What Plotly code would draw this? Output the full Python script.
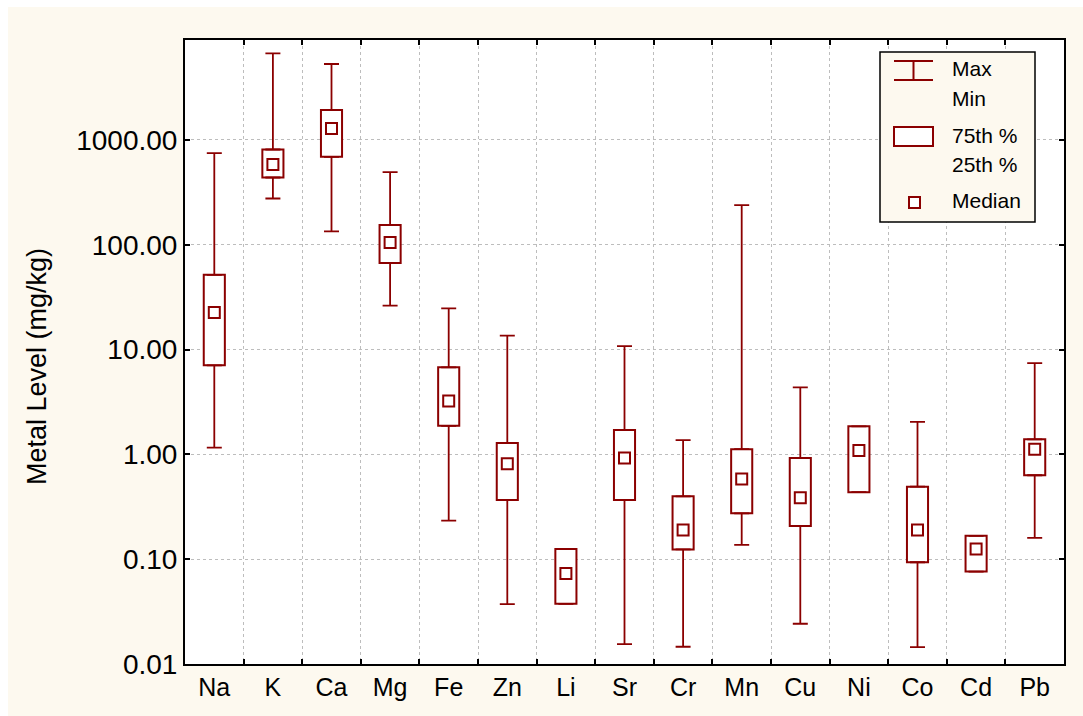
import plotly.graph_objects as go

# ---- data (mg/kg) ----
metals = ["Na", "K", "Ca", "Mg", "Fe", "Zn", "Li", "Sr", "Cr", "Mn", "Cu", "Ni", "Co", "Cd", "Pb"]
v_min    = [1.16, 276, 134, 26.2, 0.233, 0.0372, 0.0375, 0.0155, 0.0146, 0.137, 0.0242, 0.436, 0.0145, 0.0762, 0.160]
v_q1     = [7.07, 438, 689, 66.8, 1.87, 0.367, 0.0375, 0.367, 0.124, 0.274, 0.207, 0.436, 0.0935, 0.0762, 0.632]
v_median = [22.6, 582, 1284, 105, 3.23, 0.815, 0.073, 0.925, 0.190, 0.582, 0.386, 1.09, 0.190, 0.125, 1.12]
v_q3     = [51.6, 810, 1931, 154, 6.76, 1.28, 0.125, 1.71, 0.398, 1.12, 0.922, 1.85, 0.492, 0.167, 1.39]
v_max    = [747, 6700, 5300, 492, 24.7, 13.6, 0.125, 10.8, 1.37, 239, 4.36, 1.85, 2.04, 0.167, 7.43]

y_tickvals = [0.01, 0.1, 1, 10, 100, 1000]
y_ticktext = ["0.01", "0.10", "1.00", "10.00", "100.00", "1000.00"]
y_title = "Metal Level (mg/kg)"

DARK = "#8b0000"
CREAM = "#fdf9ef"
FONT = "Liberation Sans, Arial, sans-serif"

upper_len = [hi - q for hi, q in zip(v_max, v_q3)]
lower_len = [q - lo for q, lo in zip(v_q1, v_min)]
box_height = [b - a for a, b in zip(v_q1, v_q3)]

fig = go.Figure()

# Upper whiskers (from Q3 to max)
fig.add_trace(go.Scatter(
    x=metals, y=v_q3, mode="markers", marker=dict(size=1, opacity=0),
    error_y=dict(type="data", symmetric=False, array=upper_len, arrayminus=[0] * len(metals),
                 color=DARK, thickness=1.8, width=7.5),
    showlegend=False, hoverinfo="skip",
))
# Lower whiskers (from min to Q1)
fig.add_trace(go.Scatter(
    x=metals, y=v_q1, mode="markers", marker=dict(size=1, opacity=0),
    error_y=dict(type="data", symmetric=False, array=[0] * len(metals), arrayminus=lower_len,
                 color=DARK, thickness=1.8, width=7.5),
    showlegend=False, hoverinfo="skip",
))
# Boxes (Q1 to Q3)
fig.add_trace(go.Bar(
    x=metals, y=box_height, base=v_q1, width=0.36,
    marker=dict(color="white", line=dict(color=DARK, width=2)),
    showlegend=False, hoverinfo="skip",
))
# Medians
fig.add_trace(go.Scatter(
    x=metals, y=v_median, mode="markers",
    marker=dict(symbol="square-open", size=11, color=DARK, line=dict(color=DARK, width=2)),
    showlegend=False,
))

# ---- layout geometry ----
L, R, T, B = 185, 19, 40, 52
W, H = 1083, 716
pw, ph = W - L - R, H - T - B

def px(x):
    return (x - L) / pw

def py(y):
    return (H - B - y) / ph

shapes = [
    dict(type="rect", xref="paper", yref="paper", layer="below",
         x0=px(8), x1=px(1090), y0=py(725), y1=py(7),
         fillcolor=CREAM, line=dict(width=0)),
    dict(type="rect", xref="paper", yref="paper", layer="below",
         x0=0, x1=1, y0=0, y1=1, fillcolor="white", line=dict(width=0)),
    # legend frame
    dict(type="rect", xref="paper", yref="paper",
         x0=px(880), x1=px(1035), y0=py(222), y1=py(52),
         fillcolor=CREAM, line=dict(color="black", width=1.5)),
    # I-beam icon
    dict(type="line", xref="paper", yref="paper", x0=px(894), x1=px(933), y0=py(61), y1=py(61),
         line=dict(color=DARK, width=2)),
    dict(type="line", xref="paper", yref="paper", x0=px(894), x1=px(933), y0=py(80), y1=py(80),
         line=dict(color=DARK, width=2)),
    dict(type="line", xref="paper", yref="paper", x0=px(913.5), x1=px(913.5), y0=py(61), y1=py(80),
         line=dict(color=DARK, width=2)),
    # box icon
    dict(type="rect", xref="paper", yref="paper", x0=px(894), x1=px(933), y0=py(146), y1=py(127),
         fillcolor="white", line=dict(color=DARK, width=2)),
    # median icon
    dict(type="rect", xref="paper", yref="paper", x0=px(909), x1=px(920), y0=py(208), y1=py(197),
         fillcolor="white", line=dict(color=DARK, width=2)),
]

annotations = []
for txt, yy in [("Max", 69), ("Min", 98), ("75th %", 135.5), ("25th %", 164.5), ("Median", 201)]:
    annotations.append(dict(xref="paper", yref="paper", x=px(950), y=py(yy), text=txt,
                            showarrow=False, xanchor="left", yanchor="middle",
                            font=dict(family=FONT, size=21, color="black")))
# y-axis title
annotations.append(dict(xref="paper", yref="paper", x=px(37), y=py(367), text=y_title,
                        textangle=-90, showarrow=False, xanchor="center", yanchor="middle",
                        font=dict(family=FONT, size=27, color="black")))

fig.update_layout(
    width=W, height=H,
    margin=dict(l=L, r=R, t=T, b=B),
    paper_bgcolor="white",
    plot_bgcolor="rgba(0,0,0,0)",
    font=dict(family=FONT, size=25, color="black"),
    shapes=shapes,
    annotations=annotations,
    showlegend=False,
    barmode="overlay",
)

fig.update_xaxes(
    type="category",
    tickson="boundaries",
    ticks="inside", ticklen=5, tickwidth=2, tickcolor="black",
    showline=True, linecolor="black", linewidth=2, mirror="ticks",
    showgrid=True, gridcolor="#bdbdbd", gridwidth=1, griddash="3px,3px",
    tickfont=dict(family=FONT, size=25),
    range=[-0.5, 14.5],
)

fig.update_yaxes(
    type="log",
    range=[-2, 3.953],
    tickvals=y_tickvals, ticktext=y_ticktext,
    ticks="inside", ticklen=5, tickwidth=2, tickcolor="black",
    showline=True, linecolor="black", linewidth=2, mirror="ticks",
    showgrid=True, gridcolor="#bdbdbd", gridwidth=1, griddash="3px,3px",
    zeroline=False,
    tickfont=dict(family=FONT, size=28),
)

fig.write_html("out.html")
